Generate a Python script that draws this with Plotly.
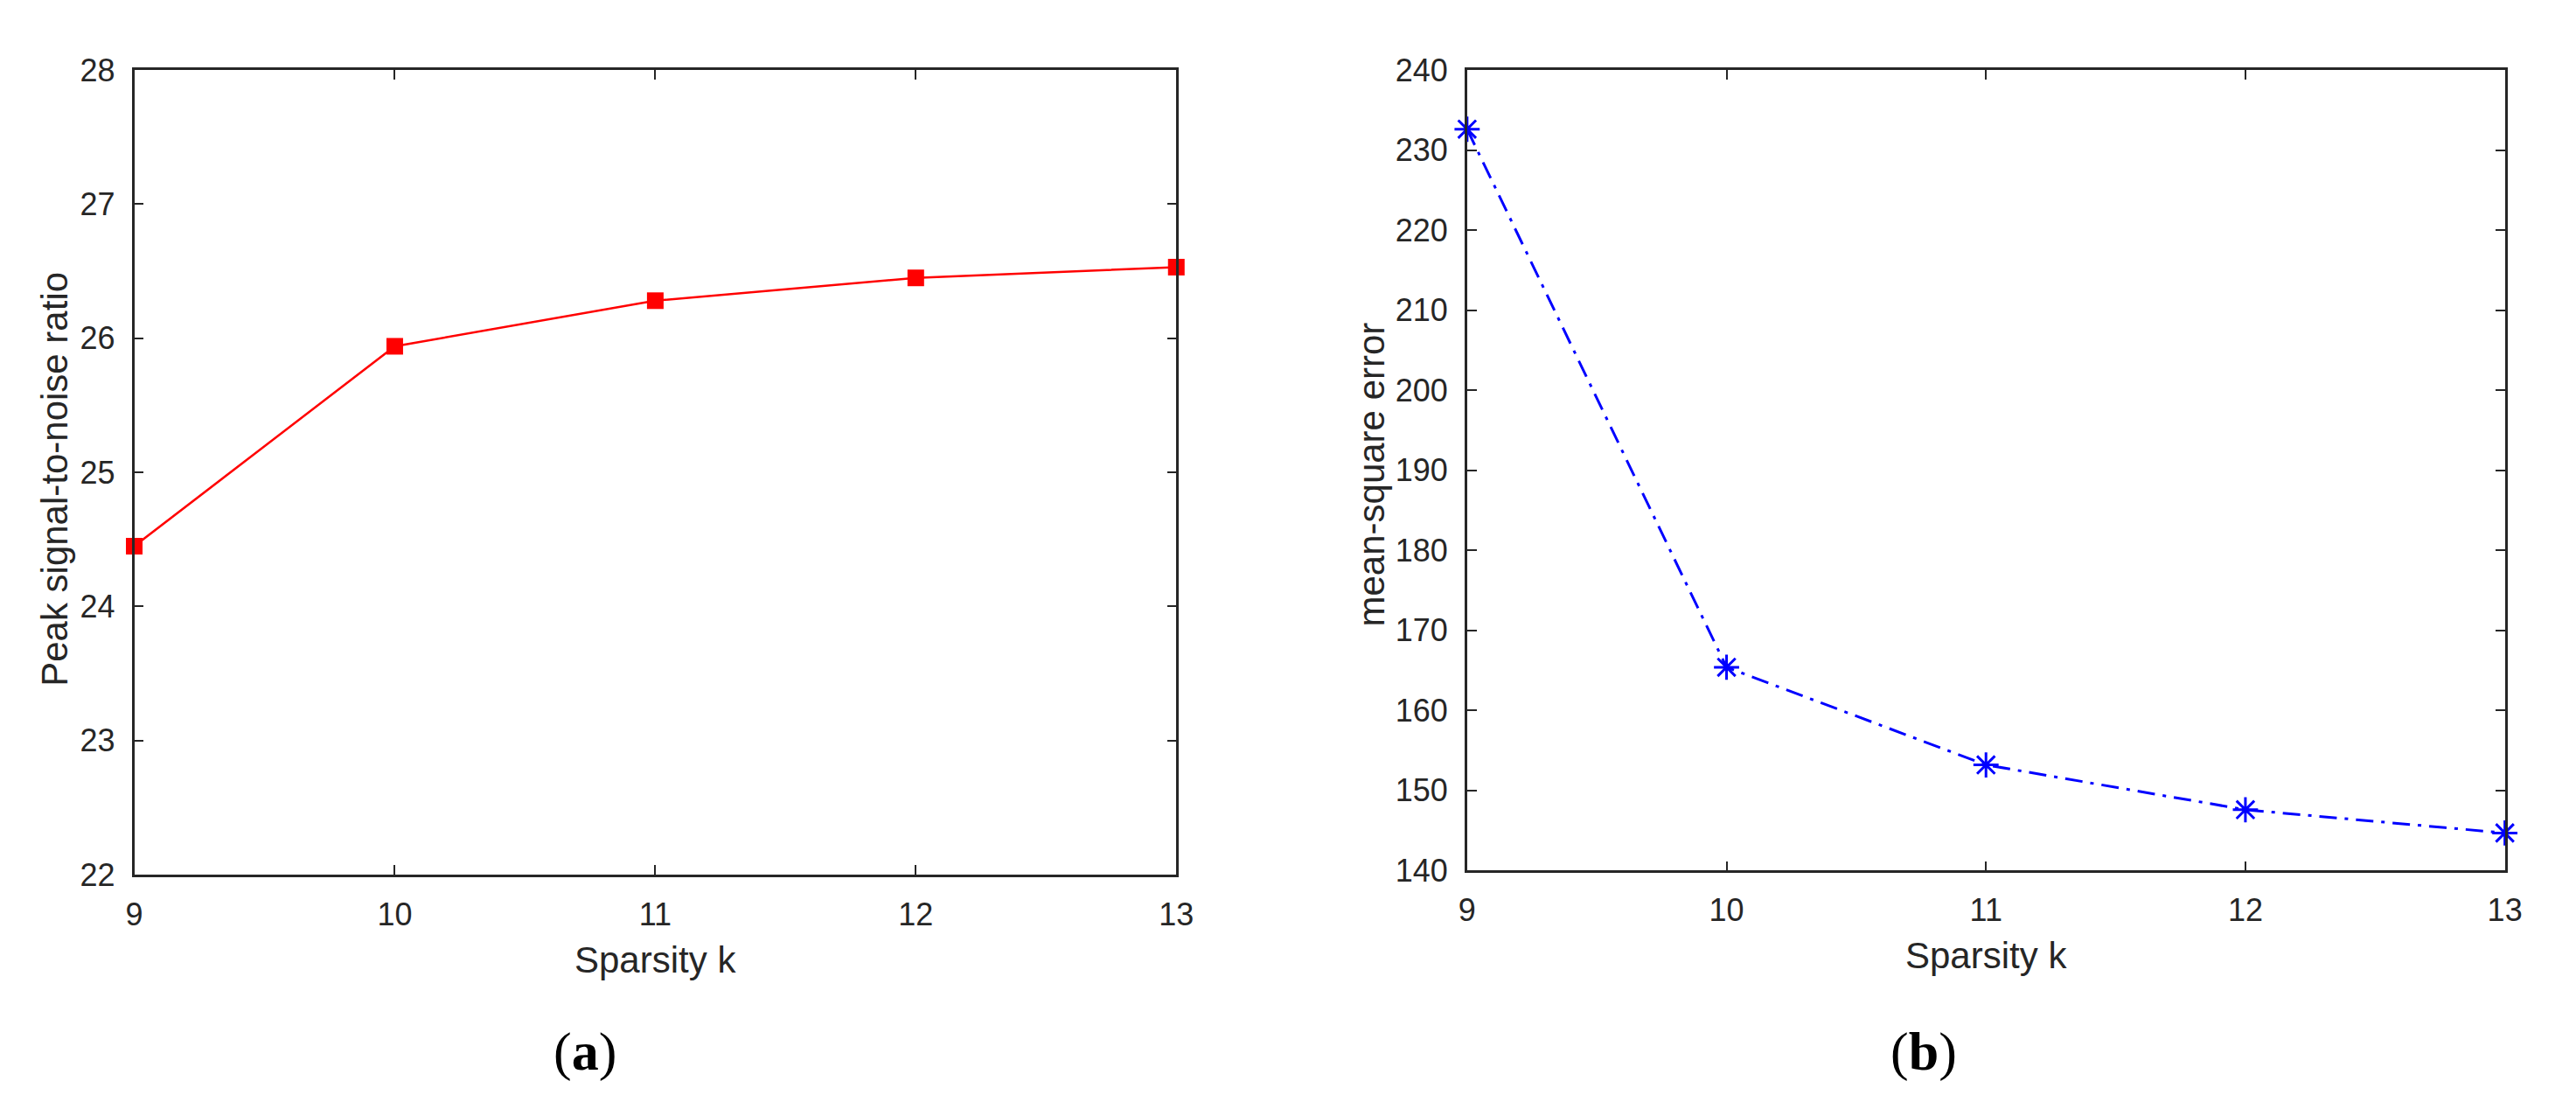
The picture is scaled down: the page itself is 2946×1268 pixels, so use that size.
import plotly.graph_objects as go

# Data
sparsity_k = [9, 10, 11, 12, 13]
psnr = [24.45, 25.94, 26.28, 26.45, 26.53]
mse = [232.6, 165.4, 153.2, 147.6, 144.7]

x_ticks = [9, 10, 11, 12, 13]
psnr_ticks = [22, 23, 24, 25, 26, 27, 28]
mse_ticks = [140, 150, 160, 170, 180, 190, 200, 210, 220, 230, 240]

W, H = 2946, 1268
AX = "#262626"
FONT = "Liberation Sans, Arial, sans-serif"

fig = go.Figure()
fig.add_trace(go.Scatter(
    x=sparsity_k, y=psnr, mode="lines+markers",
    line=dict(color="#FF0000", width=2.5),
    marker=dict(symbol="square", size=19, color="#FF0000"),
    xaxis="x", yaxis="y", showlegend=False, cliponaxis=False))
fig.add_trace(go.Scatter(
    x=sparsity_k, y=mse, mode="lines+markers",
    line=dict(color="#0000FF", width=3, dash="20px,9px,4px,9px"),
    marker=dict(symbol="asterisk-open", size=24, color="#0000FF",
                line=dict(color="#0000FF", width=3)),
    xaxis="x2", yaxis="y2", showlegend=False, cliponaxis=False))

def px_x(p):
    return p / W

def px_y(p):
    return 1 - p / H

axis_common = dict(
    showline=True, linecolor=AX, linewidth=2.5, mirror="ticks",
    ticks="inside", ticklen=11, tickwidth=2, tickcolor=AX,
    showgrid=False, zeroline=False,
    tickfont=dict(family=FONT, size=36, color=AX),
)

fig.update_layout(
    width=W, height=H,
    margin=dict(l=0, r=0, t=0, b=0),
    paper_bgcolor="white", plot_bgcolor="white",
    xaxis=dict(domain=[px_x(145), px_x(1349)], range=[9, 13],
               tickvals=x_ticks, anchor="y", ticklabelstandoff=12, **axis_common),
    yaxis=dict(domain=[px_y(1013), px_y(62)], range=[22, 28],
               tickvals=psnr_ticks, anchor="x", ticklabelstandoff=12, **axis_common),
    xaxis2=dict(domain=[px_x(1685), px_x(2884)], range=[9, 13],
                tickvals=x_ticks, anchor="y2", ticklabelstandoff=12, **axis_common),
    yaxis2=dict(domain=[px_y(1008), px_y(62)], range=[140, 240],
                tickvals=mse_ticks, anchor="x2", ticklabelstandoff=12, **axis_common),
)

title_font = dict(family=FONT, size=42, color=AX)
ann = [
    dict(text="Sparsity k", x=px_x(747), y=px_y(1113), xref="paper", yref="paper",
         showarrow=False, font=title_font, xanchor="center", yanchor="middle"),
    dict(text="Sparsity k", x=px_x(2285), y=px_y(1108), xref="paper", yref="paper",
         showarrow=False, font=title_font, xanchor="center", yanchor="middle"),
    dict(text="Peak signal-to-noise ratio", x=px_x(53), y=px_y(545), xref="paper", yref="paper",
         showarrow=False, font=title_font, textangle=-90, xanchor="center", yanchor="middle"),
    dict(text="mean-square error", x=px_x(1575), y=px_y(540), xref="paper", yref="paper",
         showarrow=False, font=title_font, textangle=-90, xanchor="center", yanchor="middle"),
    dict(text="(<b>a</b>)", x=px_x(666), y=px_y(1222), xref="paper", yref="paper",
         showarrow=False, font=dict(family="Liberation Serif, Times New Roman, serif", size=62, color="black"),
         xanchor="center", yanchor="middle"),
    dict(text="(<b>b</b>)", x=px_x(2213), y=px_y(1222), xref="paper", yref="paper",
         showarrow=False, font=dict(family="Liberation Serif, Times New Roman, serif", size=62, color="black"),
         xanchor="center", yanchor="middle"),
]
fig.update_layout(annotations=ann)

fig.write_html("out.html",
               config={"displayModeBar": False},
               post_script="document.body.style.margin='0';document.body.style.overflow='hidden';")
